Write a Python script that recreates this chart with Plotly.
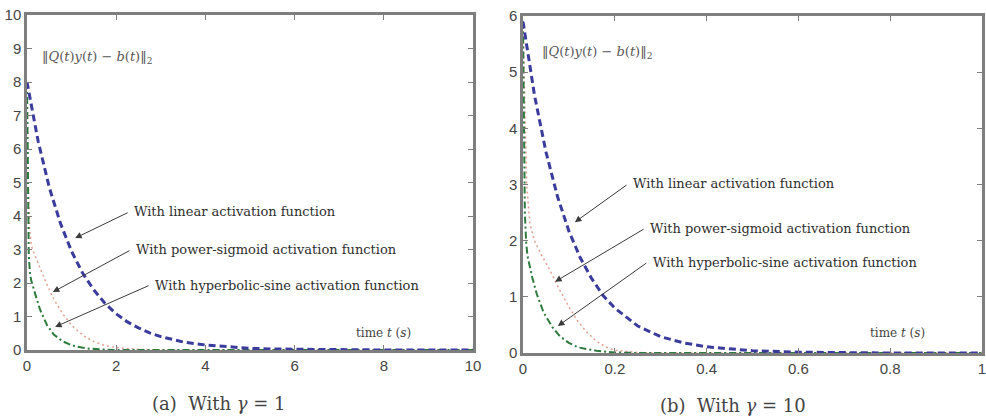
import plotly.graph_objects as go

# ---- gamma = 1 ----
t_lin_a = [0, 0.25, 0.5, 0.75, 1.0, 1.25, 1.5, 1.75, 2.0, 2.25, 2.5, 2.75, 3.0, 3.5, 4.0, 4.5, 5.0, 5.5, 6.0, 7.0, 8.0, 10.0]
e_lin_a = [8.0, 6.23, 4.85, 3.78, 2.94, 2.29, 1.79, 1.39, 1.08, 0.84, 0.66, 0.51, 0.40, 0.24, 0.15, 0.09, 0.05, 0.03, 0.02, 0.01, 0.0, 0.0]

t_ps_a = [0, 0.03, 0.06, 0.1, 0.2, 0.3, 0.4, 0.5, 0.6, 0.8, 1.0, 1.25, 1.5, 1.75, 2.0, 2.5, 3.0, 10.0]
e_ps_a = [8.0, 4.8, 3.6, 3.1, 2.75, 2.4, 2.1, 1.8, 1.52, 1.08, 0.74, 0.44, 0.25, 0.13, 0.07, 0.02, 0.0, 0.0]

t_hs_a = [0, 0.02, 0.04, 0.07, 0.1, 0.2, 0.3, 0.45, 0.6, 0.8, 1.0, 1.2, 1.4, 1.7, 2.0, 10.0]
e_hs_a = [8.0, 4.2, 2.8, 2.25, 2.05, 1.6, 1.18, 0.74, 0.46, 0.26, 0.14, 0.08, 0.04, 0.015, 0.0, 0.0]

# ---- gamma = 10 ----
t_lin_b = [0, 0.025, 0.05, 0.075, 0.1, 0.125, 0.15, 0.175, 0.2, 0.25, 0.3, 0.35, 0.4, 0.45, 0.5, 0.6, 0.7, 0.8, 1.0]
e_lin_b = [5.9, 4.59, 3.58, 2.79, 2.17, 1.69, 1.32, 1.02, 0.80, 0.48, 0.29, 0.18, 0.11, 0.07, 0.04, 0.015, 0.005, 0.0, 0.0]

t_ps_b = [0, 0.004, 0.008, 0.015, 0.025, 0.04, 0.06, 0.08, 0.1, 0.12, 0.14, 0.16, 0.18, 0.2, 0.25, 0.3, 1.0]
e_ps_b = [5.9, 4.2, 3.0, 2.3, 2.0, 1.75, 1.45, 1.12, 0.82, 0.56, 0.36, 0.21, 0.11, 0.05, 0.01, 0.0, 0.0]

t_hs_b = [0, 0.002, 0.004, 0.007, 0.01, 0.02, 0.03, 0.045, 0.065, 0.08, 0.1, 0.12, 0.16, 0.2, 0.25, 1.0]
e_hs_b = [5.9, 3.6, 2.5, 1.95, 1.72, 1.35, 1.05, 0.72, 0.45, 0.3, 0.18, 0.1, 0.04, 0.01, 0.0, 0.0]

series_names = ["With linear activation function",
                "With power-sigmoid activation function",
                "With hyperbolic-sine activation function"]

x_ticks_a = [0, 2, 4, 6, 8, 10]
y_ticks_a = [0, 1, 2, 3, 4, 5, 6, 7, 8, 9, 10]
x_ticks_b = [0, 0.2, 0.4, 0.6, 0.8, 1]
x_tick_text_b = ["0", "0.2", "0.4", "0.6", "0.8", "1"]
y_ticks_b = [0, 1, 2, 3, 4, 5, 6]

BLUE = "#3b3b9e"
PINK = "#e2a093"
GREEN = "#2d7a3d"
AXIS = "#7e7e7e"
TICKFONT = dict(family="Liberation Sans, Arial", size=15, color="#454545")
SERIF = "DejaVu Serif, Liberation Serif, serif"

fig = go.Figure()

def add_curves(t_ps, e_ps, t_hs, e_hs, t_lin, e_lin, xa, ya):
    fig.add_trace(go.Scatter(x=t_ps, y=e_ps, mode="lines", xaxis=xa, yaxis=ya,
                             line=dict(color=PINK, width=1.5, dash="2px,3px"),
                             name=series_names[1], showlegend=False))
    fig.add_trace(go.Scatter(x=t_hs, y=e_hs, mode="lines", xaxis=xa, yaxis=ya,
                             line=dict(color=GREEN, width=2, dash="7px,3px,2px,3px"),
                             name=series_names[2], showlegend=False))
    fig.add_trace(go.Scatter(x=t_lin, y=e_lin, mode="lines", xaxis=xa, yaxis=ya,
                             line=dict(color=BLUE, width=3, dash="7px,4px"),
                             name=series_names[0], showlegend=False))

add_curves(t_ps_a, e_ps_a, t_hs_a, e_hs_a, t_lin_a, e_lin_a, "x", "y")
add_curves(t_ps_b, e_ps_b, t_hs_b, e_hs_b, t_lin_b, e_lin_b, "x2", "y2")

axis_common = dict(showline=True, linecolor=AXIS, linewidth=2.5, mirror="ticks",
                   ticks="inside", ticklen=5, tickcolor=AXIS, tickwidth=1,
                   showgrid=False, zeroline=False, tickfont=TICKFONT,
                   automargin=False, ticklabeloverflow="allow")

W, H = 986, 419
def px_x(p):
    return p / W
def px_y(p):
    return 1 - p / H

fig.update_layout(
    width=W, height=H, margin=dict(l=0, r=0, t=0, b=0),
    paper_bgcolor="white", plot_bgcolor="white",
    xaxis=dict(domain=[px_x(27), px_x(473)], range=[0, 10], tickvals=x_ticks_a,
               anchor="y", **axis_common),
    yaxis=dict(domain=[px_y(350), px_y(15)], range=[0, 10], tickvals=y_ticks_a,
               anchor="x", **axis_common),
    xaxis2=dict(domain=[px_x(523), px_x(982)], range=[0, 1], tickvals=x_ticks_b,
                ticktext=x_tick_text_b, anchor="y2", **axis_common),
    yaxis2=dict(domain=[px_y(353), px_y(16)], range=[0, 6], tickvals=y_ticks_b,
                anchor="x2", **axis_common),
)

ann = []
label_font = dict(family=SERIF, size=13, color="#2e2e2e")

# arrows: (tip x, tip y, tail x, tail y), label placed at tail
arrows_a = [(1.08, 3.34, 2.29, 4.12), (0.58, 1.73, 2.33, 2.99), (0.63, 0.69, 2.76, 1.94)]
arrows_b = [(0.113, 2.33, 0.229, 3.01), (0.070, 1.27, 0.266, 2.22), (0.076, 0.48, 0.272, 1.62)]

for arrows, xr, yr, dx in [(arrows_a, "x", "y", 0.06), (arrows_b, "x2", "y2", 0.006)]:
    for name, (tx, ty, ax, ay) in zip(series_names, arrows):
        ann.append(dict(x=tx, y=ty, ax=ax, ay=ay, xref=xr, yref=yr, axref=xr, ayref=yr,
                        text="", showarrow=True, arrowhead=2, arrowsize=1.3,
                        arrowwidth=1, arrowcolor="#3a3a3a", standoff=0))
        ann.append(dict(x=ax + dx, y=ay, xref=xr, yref=yr, text=name, showarrow=False,
                        xanchor="left", yanchor="middle", font=label_font))

norm_text = "‖<i>Q</i>(<i>t</i>)<i>y</i>(<i>t</i>) − <i>b</i>(<i>t</i>)‖<sub>2</sub>"
norm_font = dict(family=SERIF, size=13, color="#555555")
ann.append(dict(x=px_x(40), y=px_y(57), xref="paper", yref="paper", text=norm_text,
                showarrow=False, xanchor="left", yanchor="middle", font=norm_font))
ann.append(dict(x=px_x(540), y=px_y(52), xref="paper", yref="paper", text=norm_text,
                showarrow=False, xanchor="left", yanchor="middle", font=norm_font))

time_text = "time <i>t</i> (<i>s</i>)"
time_font = dict(family=SERIF, size=12, color="#444444")
ann.append(dict(x=px_x(413), y=px_y(333), xref="paper", yref="paper", text=time_text,
                showarrow=False, xanchor="right", yanchor="middle", font=time_font))
ann.append(dict(x=px_x(927), y=px_y(333), xref="paper", yref="paper", text=time_text,
                showarrow=False, xanchor="right", yanchor="middle", font=time_font))

cap_font = dict(family=SERIF, size=18, color="#444444")
ann.append(dict(x=px_x(218), y=px_y(403), xref="paper", yref="paper",
                text="(a)  With <i>γ</i> = 1", showarrow=False,
                xanchor="center", yanchor="middle", font=cap_font))
ann.append(dict(x=px_x(733), y=px_y(405), xref="paper", yref="paper",
                text="(b)  With <i>γ</i> = 10", showarrow=False,
                xanchor="center", yanchor="middle", font=cap_font))

fig.update_layout(annotations=ann)

fig.write_html("out.html")
